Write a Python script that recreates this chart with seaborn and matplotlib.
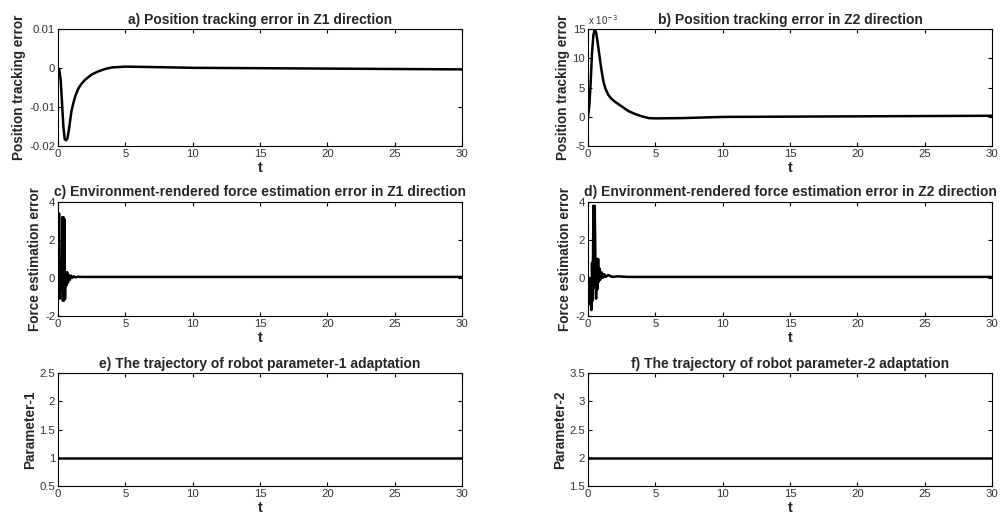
import numpy as np
import pandas as pd
import seaborn as sns
import matplotlib.pyplot as plt
from matplotlib.ticker import FixedLocator

# =========================
# DATA
# =========================
t_a = [0, 0.1, 0.2, 0.3, 0.4, 0.5, 0.6, 0.7, 0.8, 0.9, 1.0, 1.15, 1.3, 1.5, 1.7, 2.0,
       2.5, 3.0, 3.5, 4.0, 5.0, 7.0, 10.0, 15.0, 20.0, 25.0, 30.0]
pos_err_z1 = [0, -0.0005, -0.003, -0.009, -0.015, -0.0182, -0.0185, -0.018, -0.016, -0.0135,
              -0.011, -0.0088, -0.007, -0.0053, -0.0042, -0.003, -0.0016, -0.0008, -0.0002,
              0.0002, 0.0004, 0.0003, 0.0001, 0.0, -0.0001, -0.0002, -0.0003]

t_b = [0, 0.1, 0.2, 0.3, 0.4, 0.5, 0.6, 0.7, 0.85, 1.0, 1.15, 1.3, 1.5, 1.7, 2.0, 2.5,
       3.0, 3.5, 4.0, 4.5, 5.0, 7.0, 10.0, 15.0, 20.0, 25.0, 30.0]
pos_err_z2_e3 = [0, 2.0, 6.0, 11.0, 14.0, 15.0, 14.5, 13.0, 10.5, 8.0, 6.0, 4.8, 3.8, 3.2, 2.6,
                 1.8, 1.0, 0.5, 0.1, -0.2, -0.25, -0.2, 0.0, 0.05, 0.1, 0.15, 0.2]

t_c = [0, 0.04, 0.08, 0.12, 0.16, 0.2, 0.24, 0.28, 0.32, 0.36, 0.4, 0.44, 0.48, 0.52,
       0.56, 0.62, 0.68, 0.74, 0.8, 0.88, 0.96, 1.05, 1.15, 1.3, 1.5, 1.8, 30.0]
force_err_z1 = [0, -0.4, 3.4, -1.1, 0.5, -0.7, 1.0, -0.3, 3.2, -1.2, 3.2, -1.2, 3.1, -1.1,
                0.3, -0.4, 0.3, -0.25, 0.15, -0.1, 0.12, 0.0, 0.08, 0.03, 0.06, 0.05, 0.05]

t_d = [0, 0.05, 0.1, 0.15, 0.2, 0.25, 0.3, 0.35, 0.4, 0.45, 0.5, 0.55, 0.6, 0.65, 0.7,
       0.75, 0.8, 0.85, 0.9, 1.0, 1.1, 1.2, 1.3, 1.5, 1.8, 2.2, 3.0, 30.0]
force_err_z2 = [0, -0.7, 0.0, -1.4, -0.5, -1.7, 0.8, -1.2, 3.8, -0.5, 3.8, 0.8, -1.1, 1.0,
                -0.6, 1.0, -0.2, 0.5, -0.1, 0.3, 0.0, 0.2, 0.05, 0.15, 0.05, 0.08, 0.05, 0.05]

t_ef = [0, 30]
param_1 = [1, 1]
param_2 = [2, 2]

titles = [
    "a) Position tracking error in Z1 direction",
    "b) Position tracking error in Z2 direction",
    "c) Environment-rendered force estimation error in Z1 direction",
    "d) Environment-rendered force estimation error in Z2 direction",
    "e) The trajectory of robot parameter-1 adaptation",
    "f) The trajectory of robot parameter-2 adaptation",
]
ylabels = ["Position tracking error", "Position tracking error",
           "Force estimation error", "Force estimation error",
           "Parameter-1", "Parameter-2"]
yticks = [
    [-0.02, -0.01, 0, 0.01],
    [-5, 0, 5, 10, 15],
    [-2, 0, 2, 4],
    [-2, 0, 2, 4],
    [0.5, 1, 1.5, 2, 2.5],
    [1.5, 2, 2.5, 3, 3.5],
]
yticklabels = [
    ["-0.02", "-0.01", "0", "0.01"],
    ["-5", "0", "5", "10", "15"],
    ["-2", "0", "2", "4"],
    ["-2", "0", "2", "4"],
    ["0.5", "1", "1.5", "2", "2.5"],
    ["1.5", "2", "2.5", "3", "3.5"],
]
xticks = [0, 5, 10, 15, 20, 25, 30]

series = [
    (t_a, pos_err_z1), (t_b, pos_err_z2_e3), (t_c, force_err_z1),
    (t_d, force_err_z2), (t_ef, param_1), (t_ef, param_2),
]

# =========================
# STYLE
# =========================
sns.set_style("ticks")
plt.rcParams["font.family"] = ["Liberation Sans", "DejaVu Sans"]
plt.rcParams["xtick.direction"] = "in"
plt.rcParams["ytick.direction"] = "in"
plt.rcParams["xtick.top"] = True
plt.rcParams["ytick.right"] = True

fig = plt.figure(figsize=(10, 5.22), dpi=100)

lefts = [0.058, 0.588]
bottoms = [0.720, 0.395, 0.069]
heights = [0.224, 0.218, 0.216]
width = 0.404

for i, ((tx, vals), title) in enumerate(zip(series, titles)):
    row, col = divmod(i, 2)
    ax = fig.add_axes([lefts[col], bottoms[row], width, heights[row]])
    df = pd.DataFrame({"t": tx, "v": vals})
    sns.lineplot(data=df, x="t", y="v", ax=ax, color="black", linewidth=1.8)
    ax.set_xlim(0, 30)
    ax.set_ylim(yticks[i][0], yticks[i][-1])
    ax.xaxis.set_major_locator(FixedLocator(xticks))
    ax.set_xticklabels([str(x) for x in xticks])
    ax.yaxis.set_major_locator(FixedLocator(yticks[i]))
    ax.set_yticklabels(yticklabels[i])
    ax.tick_params(axis="both", labelsize=8.2, length=3, width=0.8, colors="black",
                   labelcolor="#333333", pad=2)
    for sp in ax.spines.values():
        sp.set_linewidth(0.8)
        sp.set_color("black")
    ax.set_title(title, fontsize=10, fontweight="bold", pad=4)
    ax.set_xlabel("t", fontsize=10.5, fontweight="bold", labelpad=1.5)
    ax.set_ylabel(ylabels[i], fontsize=9.8, fontweight="bold", labelpad=2)
    if i == 1:
        ax.text(0.0, 1.02, "x 10$^{-3}$", transform=ax.transAxes, fontsize=7,
                color="#333333", ha="left", va="bottom")

fig.savefig("out.png", dpi=100)
plt.close()
